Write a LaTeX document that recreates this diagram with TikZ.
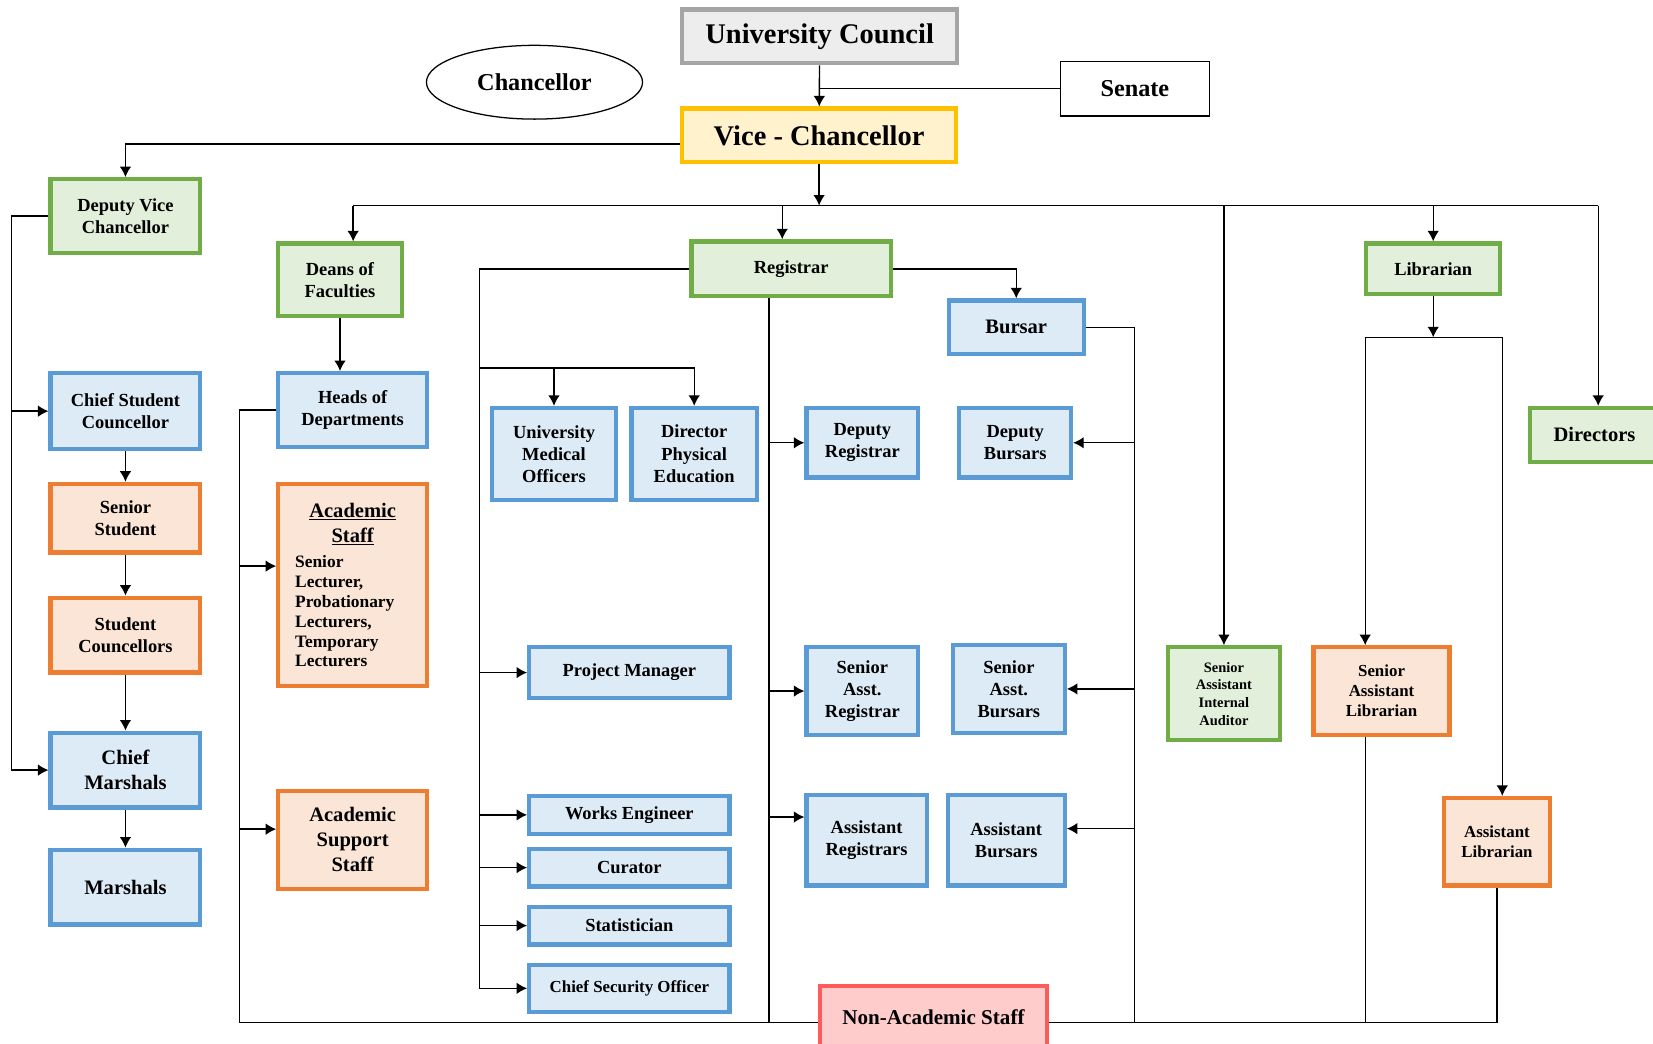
\documentclass[tikz,border=0pt]{standalone}
\usepackage{fontspec}
\setmainfont{Liberation Serif}
\usetikzlibrary{arrows.meta,shapes.geometric}

\definecolor{grnline}{HTML}{70AD47}
\definecolor{grnfill}{HTML}{E2EFDA}
\definecolor{bluline}{HTML}{5B9BD5}
\definecolor{blufill}{HTML}{DDEBF7}
\definecolor{orgline}{HTML}{ED7D31}
\definecolor{orgfill}{HTML}{FBE5D6}
\definecolor{goldline}{HTML}{FFC000}
\definecolor{goldfill}{HTML}{FFF2CC}
\definecolor{grayline}{HTML}{A5A5A5}
\definecolor{grayfill}{HTML}{EDEDED}
\definecolor{redline}{HTML}{FF5B5B}
\definecolor{redfill}{HTML}{FFCCCC}

\begin{document}
\begin{tikzpicture}[x=1pt,y=-1pt,->,>={Latex[length=10pt,width=11pt]},
                    line width=1.3pt]
  \tikzstyle{box}=[draw,line width=4pt,align=center,inner sep=2pt]
  \tikzstyle{greenbox}=[box,draw=grnline,fill=grnfill]
  \tikzstyle{bluebox}=[box,draw=bluline,fill=blufill]
  \tikzstyle{orangebox}=[box,draw=orgline,fill=orgfill]
  \tikzstyle{thinbox}=[draw,line width=1.2pt,fill=white,align=center]
  \tikzstyle{tx}=[font=\bfseries\fontsize{17.5}{21}\selectfont]
  \tikzstyle{txbig}=[font=\bfseries\fontsize{27}{32}\selectfont]
  \tikzstyle{txmid}=[font=\bfseries\fontsize{23}{27}\selectfont]
  \tikzstyle{txlg}=[font=\bfseries\fontsize{19.5}{23.5}\selectfont]
  \tikzstyle{txsm}=[font=\bfseries\fontsize{16}{19}\selectfont]
  \tikzstyle{txxs}=[font=\bfseries\fontsize{13.7}{16.7}\selectfont]

  \useasboundingbox (0,0) rectangle (1568,989.5);

  % top
  \node[box,draw=grayline,fill=grayfill,txbig,minimum width=261pt,minimum height=51pt]
        (council) at (777.5,34.5) {University Council};
  \node[thinbox,ellipse,txmid,minimum width=205pt,minimum height=70pt,inner sep=0pt]
        (chancellor) at (507,78) {Chancellor};
  \node[thinbox,txmid,minimum width=141pt,minimum height=52pt]
        (senate) at (1076.5,84) {Senate};
  \node[box,draw=goldline,fill=goldfill,txbig,minimum width=260pt,minimum height=51pt]
        (vc) at (777,128.5) {Vice - Chancellor};

  % second row
  \node[greenbox,tx,minimum width=142pt,minimum height=70pt] (dvc) at (119,205) {Deputy Vice\\Chancellor};
  \node[greenbox,tx,minimum width=117pt,minimum height=69pt] (deans) at (322.5,265.5) {Deans of\\Faculties};
  \node[greenbox,tx,minimum width=189pt,minimum height=52pt] (registrar) at (750.5,255) {Registrar};
  \node[greenbox,tx,minimum width=127pt,minimum height=48pt] (librarian) at (1359.5,255) {Librarian};
  \node[greenbox,txlg,minimum width=123pt,minimum height=51pt] (directors) at (1512.5,412.5) {Directors};
  \node[bluebox,txlg,minimum width=128pt,minimum height=51pt] (bursar) at (964,310.5) {Bursar};

  % student side
  \node[bluebox,tx,minimum width=142pt,minimum height=72pt] (csc) at (119,390) {Chief Student\\Councellor};
  \node[orangebox,tx,minimum width=142pt,minimum height=65pt] (senstu) at (119,491.5) {Senior\\Student};
  \node[orangebox,tx,minimum width=142pt,minimum height=71pt] (stucoun) at (119,602.5) {Student\\Councellors};
  \node[bluebox,txlg,minimum width=142pt,minimum height=71pt] (chiefmar) at (119,730.5) {Chief\\Marshals};
  \node[bluebox,txlg,minimum width=142pt,minimum height=71pt] (marshals) at (119,841.5) {Marshals};

  % academic side
  \node[bluebox,tx,minimum width=141pt,minimum height=70pt] (heads) at (334.5,389) {Heads of\\Departments};
  \node[orangebox,minimum width=141pt,minimum height=192pt,text width=109pt,align=left]
        (acstaff) at (334.5,555)
        {\centering\bfseries\fontsize{19.5}{24}\selectfont\underline{Academic}\\\underline{Staff}\par
         \vspace{5pt}
         \raggedright\fontsize{16.5}{18.8}\selectfont Senior\\Lecturer,\\Probationary\\Lecturers,\\Temporary\\Lecturers\par};
  \node[orangebox,txlg,minimum width=141pt,minimum height=93pt] (acsupport) at (334.5,796.5) {Academic\\Support\\Staff};

  % registry
  \node[bluebox,tx,minimum width=117pt,minimum height=87pt] (umo) at (525.5,430.5) {University\\Medical\\Officers};
  \node[bluebox,tx,minimum width=119pt,minimum height=87pt] (dpe) at (658.5,430.5) {Director\\Physical\\Education};
  \node[bluebox,tx,minimum width=190pt,minimum height=48pt] (projman) at (597,638) {Project Manager};
  \node[bluebox,tx,minimum width=190pt,minimum height=36pt] (works) at (597,773) {Works Engineer};
  \node[bluebox,tx,minimum width=190pt,minimum height=36pt] (curator) at (597,823) {Curator};
  \node[bluebox,tx,minimum width=190pt,minimum height=36pt] (statis) at (597,878) {Statistician};
  \node[bluebox,txsm,minimum width=190pt,minimum height=45pt] (cso) at (597,937.5) {Chief Security Officer};
  \node[bluebox,tx,minimum width=106pt,minimum height=66pt] (depreg) at (818,420) {Deputy\\Registrar};
  \node[bluebox,tx,minimum width=106pt,minimum height=83pt] (sareg) at (818,655.5) {Senior\\Asst.\\Registrar};
  \node[bluebox,tx,minimum width=114pt,minimum height=86pt] (asreg) at (822,797) {Assistant\\Registrars};

  % bursary
  \node[bluebox,tx,minimum width=106pt,minimum height=66pt] (depbur) at (963,420) {Deputy\\Bursars};
  \node[bluebox,tx,minimum width=106pt,minimum height=83pt] (sabur) at (957,653.5) {Senior\\Asst.\\Bursars};
  \node[bluebox,tx,minimum width=111pt,minimum height=86pt] (asbur) at (954.5,797) {Assistant\\Bursars};

  % audit and library
  \node[greenbox,txxs,minimum width=106pt,minimum height=88pt] (saia) at (1161,658) {Senior\\Assistant\\Internal\\Auditor};
  \node[orangebox,txsm,minimum width=129pt,minimum height=83pt] (salib) at (1310.5,655.5) {Senior\\Assistant\\Librarian};
  \node[orangebox,txsm,minimum width=100pt,minimum height=83pt] (aslib) at (1420,798.5) {Assistant\\Librarian};

  \node[box,draw=redline,fill=redfill,font=\bfseries\fontsize{20}{24}\selectfont,
        minimum width=215pt,minimum height=60pt] (nonac) at (885.5,965) {Non-Academic Staff};

  % helper points
  \coordinate (busL) at (335,195);
  \coordinate (busR) at (1516,195);
  \coordinate (busreg) at (742,195);
  \coordinate (dvcline) at (11,205);
  \coordinate (botL) at (227,970);
  \coordinate (regline) at (455,349);
  \coordinate (regdown) at ([xshift=-21pt]registrar.south);
  \coordinate (burR) at (1076,970);
  \coordinate (libL) at (1295,320);
  \coordinate (libR) at (1425,320);
  \coordinate (acin) at ([yshift=18pt]acstaff.west);
  \coordinate (supin) at ([yshift=10pt]acsupport.west);
  \coordinate (asregin) at ([yshift=22pt]asreg.west);
  \coordinate (asburin) at ([yshift=11pt]asbur.east);

  % top links
  \path (council) edge (vc);
  \draw[-] (senate.west) -- (senate.west -| council.south);
  \draw ([yshift=-8pt]vc.west) -| (dvc.north);
  \draw (vc.south) -- (vc.south |- busL);
  \draw[-] (busL) -- (busR);
  \draw (busL) -- (busL |- deans.north);
  \draw (busreg) -- (busreg |- registrar.north);
  \draw (librarian.north |- busL) -- (librarian.north);
  \draw (busR) -- (busR |- directors.north);
  \draw (saia.north |- busL) -- (saia.north);

  % student side
  \draw (dvc.west) -- (dvcline) |- (chiefmar.west);
  \draw (dvcline |- csc.west) -- (csc.west);
  \path (csc) edge (senstu)
        (senstu) edge (stucoun)
        (stucoun) edge (chiefmar)
        (chiefmar) edge (marshals);

  % academic side
  \draw (deans.south) -- (deans.south |- heads.north);
  \draw[-] (heads.west) -| (botL) -- (nonac.west |- botL);
  \draw (acin -| botL) -- (acin);
  \draw (supin -| botL) -- (supin);

  % registrar
  \draw (registrar.west) -| (regline) |- (cso.west);
  \draw (regline) -| (dpe.north);
  \draw (regline -| umo.north) -- (umo.north);
  \draw (regline |- projman.west) -- (projman.west);
  \draw (regline |- works.west) -- (works.west);
  \draw (regline |- curator.west) -- (curator.west);
  \draw (regline |- statis.west) -- (statis.west);
  \draw (registrar.east) -| (bursar.north);
  \draw[-] (regdown) -- (regdown |- botL);
  \draw (regdown |- depreg.west) -- (depreg.west);
  \draw (regdown |- sareg.west) -- (sareg.west);
  \draw (regdown |- asregin) -- (asregin);

  % bursar
  \draw[-] (bursar.east) -| (burR);
  \draw (burR |- depbur.east) -- (depbur.east);
  \draw (burR |- sabur.east) -- (sabur.east);
  \draw (burR |- asburin) -- (asburin);

  % library
  \draw (librarian.south) -- (librarian.south |- libL);
  \draw[-] (libL) -- (libR);
  \draw (libL) -- (libL |- salib.north);
  \draw (libR) -- (libR |- aslib.north);
  \draw[-] (libL |- salib.south) -- (libL |- botL);
  \draw[-] (nonac.east |- botL) -- (aslib.south |- botL) -- (aslib.south);
\end{tikzpicture}
\end{document}
